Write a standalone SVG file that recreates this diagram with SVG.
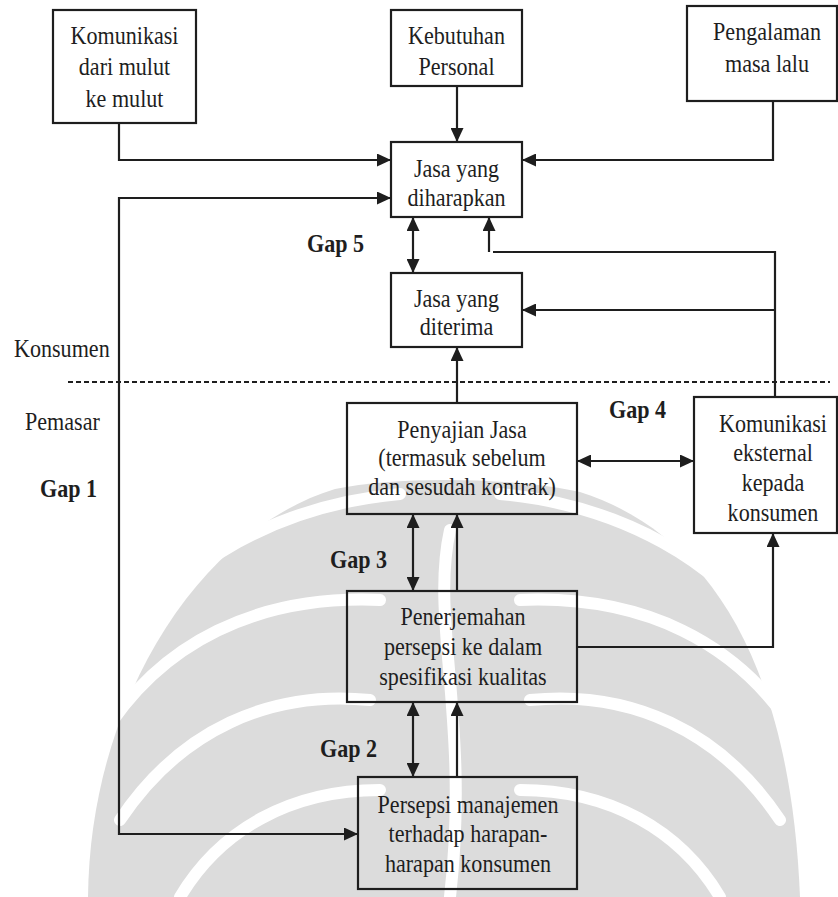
<svg xmlns="http://www.w3.org/2000/svg" width="838" height="897" viewBox="0 0 838 897">
  <defs>
    <marker id="arr" markerUnits="userSpaceOnUse" markerWidth="14" markerHeight="13" refX="14" refY="6.5" orient="auto-start-reverse">
      <path d="M0,0 L14,6.5 L0,13 z" fill="#1e1e1e"/>
    </marker>
    <style>
      .box { fill: none; stroke: #1e1e1e; stroke-width: 2.2; }
      .t { font-family: "Liberation Serif", "Times New Roman", serif; font-size: 26px; fill: #1e1e1e; text-anchor: middle; }
      .l { font-family: "Liberation Serif", "Times New Roman", serif; font-size: 26px; fill: #1e1e1e; }
      .g { font-family: "Liberation Serif", "Times New Roman", serif; font-size: 26px; font-weight: bold; fill: #1e1e1e; }
      .c { fill: none; stroke: #1e1e1e; stroke-width: 2.2; }
      .a { marker-end: url(#arr); }
      .d { marker-start: url(#arr); marker-end: url(#arr); }
      .wm { fill: #dcdcdc; }
      .ws { fill: none; stroke: #fff; stroke-width: 12; stroke-linecap: round; }
    </style>
  </defs>
  <rect width="838" height="897" fill="#fff"/>

  <!-- faint emblem in the background -->
  <g id="watermark">
    <path class="wm" d="M88,897 C90,700 200,530 335,489 C400,475 520,478 580,492 C700,530 790,650 800,897 Z"/>
    <path class="ws" d="M120,650 C180,560 280,505 400,494"/>
    <path class="ws" d="M100,740 C160,640 260,595 380,600"/>
    <path class="ws" d="M120,820 C180,730 270,690 370,700"/>
    <path class="ws" d="M180,897 C220,830 290,790 380,790"/>
    <path class="ws" d="M780,650 C720,560 620,505 500,494"/>
    <path class="ws" d="M800,740 C740,640 640,595 520,600"/>
    <path class="ws" d="M780,820 C720,730 630,690 530,700"/>
    <path class="ws" d="M720,897 C680,830 610,790 520,790"/>
    <path class="ws" d="M450,530 C430,620 470,720 450,897"/>
  </g>

  <!-- connectors -->
  <g id="connectors">
    <path class="c a" d="M119,123 V160 H391"/>
    <path class="c a" d="M457,86 V142"/>
    <path class="c a" d="M773,101 V160 H522"/>
    <path class="c d" d="M358,834 H119 V198 H391"/>
    <path class="c d" d="M413,217 V273"/>
    <path class="c" d="M775,397 V252 H493"/>
    <path class="c a" d="M489,252 V217"/>
    <path class="c a" d="M775,310 H522"/>
    <path class="c a" d="M457,403 V347"/>
    <path class="c d" d="M577,461 H694"/>
    <path class="c d" d="M413,514 V591"/>
    <path class="c a" d="M457,591 V514"/>
    <path class="c a" d="M577,647 H773 V533"/>
    <path class="c d" d="M413,702 V777"/>
    <path class="c a" d="M457,777 V702"/>
    <path d="M68,382 H830" fill="none" stroke="#1e1e1e" stroke-width="2" stroke-dasharray="5,3"/>
  </g>

  <!-- side labels -->
  <g id="labels">
    <text class="l" transform="translate(14,357) scale(0.85,1)">Konsumen</text>
    <text class="l" transform="translate(25,430) scale(0.85,1)">Pemasar</text>
    <text class="g" transform="translate(40,497) scale(0.85,1)">Gap 1</text>
    <text class="g" transform="translate(307,252) scale(0.85,1)">Gap 5</text>
    <text class="g" transform="translate(609,418) scale(0.85,1)">Gap 4</text>
    <text class="g" transform="translate(330,568) scale(0.85,1)">Gap 3</text>
    <text class="g" transform="translate(320,757) scale(0.85,1)">Gap 2</text>
  </g>

  <g id="wom">
    <rect class="box" x="53" y="10" width="143" height="113"/>
    <text class="t" transform="translate(124.5,44) scale(0.85,1)"><tspan x="0">Komunikasi</tspan><tspan x="0" dy="31.5">dari mulut</tspan><tspan x="0" dy="31.5">ke mulut</tspan></text>
  </g>
  <g id="needs">
    <rect class="box" x="391" y="10" width="131" height="76"/>
    <text class="t" transform="translate(456.5,44) scale(0.85,1)"><tspan x="0">Kebutuhan</tspan><tspan x="0" dy="31">Personal</tspan></text>
  </g>
  <g id="past">
    <rect class="box" x="687" y="6" width="150" height="95"/>
    <text class="t" transform="translate(767,40) scale(0.85,1)"><tspan x="0">Pengalaman</tspan><tspan x="0" dy="32">masa lalu</tspan></text>
  </g>
  <g id="expected">
    <rect class="box" x="391" y="142" width="131" height="75"/>
    <text class="t" transform="translate(456.5,177) scale(0.85,1)"><tspan x="0">Jasa yang</tspan><tspan x="0" dy="29">diharapkan</tspan></text>
  </g>
  <g id="perceived">
    <rect class="box" x="391" y="273" width="131" height="74"/>
    <text class="t" transform="translate(456.5,307) scale(0.85,1)"><tspan x="0">Jasa yang</tspan><tspan x="0" dy="28">diterima</tspan></text>
  </g>
  <g id="delivery">
    <rect class="box" x="347" y="403" width="230" height="111"/>
    <text class="t" transform="translate(462,438) scale(0.85,1)"><tspan x="0">Penyajian Jasa</tspan><tspan x="0" dy="28.5">(termasuk sebelum</tspan><tspan x="0" dy="28.5">dan sesudah kontrak)</tspan></text>
  </g>
  <g id="external">
    <rect class="box" x="694" y="397" width="143" height="136"/>
    <text class="t" transform="translate(773,432) scale(0.85,1)"><tspan x="0">Komunikasi</tspan><tspan x="0" dy="29.5">eksternal</tspan><tspan x="0" dy="29.5">kepada</tspan><tspan x="0" dy="30">konsumen</tspan></text>
  </g>
  <g id="specs">
    <rect class="box" x="347" y="591" width="230" height="111"/>
    <text class="t" transform="translate(463,625) scale(0.85,1)"><tspan x="0">Penerjemahan</tspan><tspan x="0" dy="30">persepsi ke dalam</tspan><tspan x="0" dy="30">spesifikasi kualitas</tspan></text>
  </g>
  <g id="management">
    <rect class="box" x="358" y="777" width="219" height="112"/>
    <text class="t" transform="translate(468,813) scale(0.85,1)"><tspan x="0">Persepsi manajemen</tspan><tspan x="0" dy="29.5">terhadap harapan-</tspan><tspan x="0" dy="29.5">harapan konsumen</tspan></text>
  </g>
</svg>
